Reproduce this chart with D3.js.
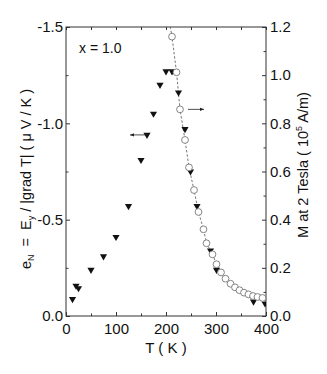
<!DOCTYPE html>
<html>
<head>
<meta charset="utf-8">
<script src="https://cdn.jsdelivr.net/npm/d3@7"></script>
<style>
  body { margin: 0; background: #fff; }
  svg text { font-family: "Liberation Sans", Arial, sans-serif; fill: #111; }
</style>
</head>
<body>
<svg width="327" height="374"></svg>
<script>
// Эффект Нернста e_N (левая ось), чёрные треугольники
const tempN = [13, 20, 25, 50, 75, 100, 125, 150, 162, 175, 188, 200, 212, 225, 238, 249, 262, 289, 301, 375, 398];
const eN = [-0.088, -0.157, -0.144, -0.24, -0.31, -0.41, -0.57, -0.81, -0.94, -1.05, -1.20, -1.27, -1.27, -1.16, -0.97, -0.75, -0.57, -0.34, -0.24, -0.075, -0.065];

// Намагниченность M при 2 Тл (правая ось), светлые кружки
const tempM = [212, 221, 228, 238, 246, 256, 265, 275, 281, 293, 301, 310, 319, 329, 338, 347, 356, 365, 374, 383, 393];
const magM = [1.16, 1.012, 0.858, 0.731, 0.617, 0.523, 0.432, 0.36, 0.302, 0.256, 0.215, 0.181, 0.155, 0.134, 0.119, 0.107, 0.097, 0.09, 0.083, 0.079, 0.075];

// Концы пунктирной линии за пределами точек
const guideStart = {t: 207, m: 1.22};
const guideEnd = {t: 402, m: 0.072};

const xTicks = [0, 100, 200, 300, 400];
const xMinor = [50, 150, 250, 350];
const leftTicks = [0, -0.5, -1.0, -1.5];
const leftMinor = [-0.25, -0.75, -1.25];
const rightTicks = [0, 0.2, 0.4, 0.6, 0.8, 1.0, 1.2];
const rightMinor = [0.1, 0.3, 0.5, 0.7, 0.9, 1.1];

const svg = d3.select("svg");
const L = 66, R = 266, T = 27, B = 316;

const x = d3.scaleLinear().domain([0, 400]).range([L, R]);
const yL = d3.scaleLinear().domain([0, -1.5]).range([B, T]);
const yR = d3.scaleLinear().domain([0, 1.2]).range([B, T]);
const fmt = d => d.toFixed(1);

// Рамка
svg.append("rect")
    .attr("x", L).attr("y", T)
    .attr("width", R - L).attr("height", B - T)
    .attr("fill", "none").attr("stroke", "#333").attr("stroke-width", 1);

function styleAxis(g) {
    g.select(".domain").remove();
    g.selectAll("line").attr("stroke", "#333");
    g.selectAll("text").attr("font-size", 15).attr("fill", "#111")
        .attr("font-family", "Liberation Sans, Arial, sans-serif");
}

// Нижняя ось
svg.append("g").attr("transform", `translate(0,${B})`)
    .call(d3.axisBottom(x).tickValues(xTicks).tickFormat(d3.format("d")).tickSizeInner(-4).tickSizeOuter(0).tickPadding(7))
    .call(styleAxis);
svg.append("g").attr("transform", `translate(0,${B})`)
    .call(d3.axisBottom(x).tickValues(xMinor).tickFormat("").tickSizeInner(-2.5).tickSizeOuter(0))
    .call(styleAxis);
// Верхняя ось (только риски)
svg.append("g").attr("transform", `translate(0,${T})`)
    .call(d3.axisTop(x).tickValues(xTicks.concat(xMinor)).tickFormat("").tickSizeInner(-3).tickSizeOuter(0))
    .call(styleAxis);

// Левая ось
svg.append("g").attr("transform", `translate(${L},0)`)
    .call(d3.axisLeft(yL).tickValues(leftTicks).tickFormat(fmt).tickSizeInner(-4).tickSizeOuter(0).tickPadding(3))
    .call(styleAxis);
svg.append("g").attr("transform", `translate(${L},0)`)
    .call(d3.axisLeft(yL).tickValues(leftMinor).tickFormat("").tickSizeInner(-2.5).tickSizeOuter(0))
    .call(styleAxis);

// Правая ось
svg.append("g").attr("transform", `translate(${R},0)`)
    .call(d3.axisRight(yR).tickValues(rightTicks).tickFormat(fmt).tickSizeInner(-4).tickSizeOuter(0).tickPadding(4))
    .call(styleAxis);
svg.append("g").attr("transform", `translate(${R},0)`)
    .call(d3.axisRight(yR).tickValues(rightMinor).tickFormat("").tickSizeInner(-2.5).tickSizeOuter(0))
    .call(styleAxis);

// Обрезка по области графика
svg.append("clipPath").attr("id", "plot")
    .append("rect").attr("x", L).attr("y", T).attr("width", R - L).attr("height", B - T);
const plot = svg.append("g").attr("clip-path", "url(#plot)");

// Пунктир через кружки
const mPoints = tempM.map((t, i) => ({t, m: magM[i]}));
const line = d3.line().x(d => x(d.t)).y(d => yR(d.m));
plot.append("path")
    .attr("d", line([guideStart, ...mPoints, guideEnd]))
    .attr("fill", "none").attr("stroke", "#555").attr("stroke-width", 0.8)
    .attr("stroke-dasharray", "2.5,1.8");

// Треугольники e_N
const tri = d3.symbol().type(d3.symbolTriangle).size(22);
plot.selectAll(".tri").data(tempN.map((t, i) => ({t, e: eN[i]})))
    .join("path")
    .attr("d", tri)
    .attr("transform", d => `translate(${x(d.t)},${yL(d.e)}) rotate(180)`)
    .attr("fill", "#111");

// Кружки M
plot.selectAll(".circ").data(mPoints)
    .join("circle")
    .attr("cx", d => x(d.t)).attr("cy", d => yR(d.m)).attr("r", 3.4)
    .attr("fill", "#fff").attr("stroke", "#777").attr("stroke-width", 0.9);

// Стрелки-указатели осей
svg.append("defs").append("marker")
    .attr("id", "head").attr("viewBox", "0 0 10 10")
    .attr("refX", 10).attr("refY", 5)
    .attr("markerWidth", 5).attr("markerHeight", 5)
    .attr("orient", "auto")
    .append("path").attr("d", "M0,1 L10,5 L0,9 Z").attr("fill", "#222");

svg.append("line")
    .attr("x1", x(163)).attr("y1", yL(-0.94)).attr("x2", x(128)).attr("y2", yL(-0.94))
    .attr("stroke", "#222").attr("stroke-width", 0.8).attr("marker-end", "url(#head)");
svg.append("line")
    .attr("x1", x(244)).attr("y1", yR(0.858)).attr("x2", x(276)).attr("y2", yR(0.858))
    .attr("stroke", "#222").attr("stroke-width", 0.8).attr("marker-end", "url(#head)");

// Подпись состава
svg.append("text").attr("x", 79).attr("y", 53).attr("font-size", 14).text("x = 1.0");

// Подпись оси X
svg.append("text").attr("x", (L + R) / 2).attr("y", 353)
    .attr("text-anchor", "middle").attr("font-size", 15).text("T ( K )");

// Подпись левой оси
const lt = svg.append("text")
    .attr("transform", "translate(31,179) rotate(-90)")
    .attr("text-anchor", "middle").attr("font-size", 14.5)
    .attr("xml:space", "preserve").style("white-space", "pre");
lt.append("tspan").text("e");
lt.append("tspan").attr("font-size", 9).attr("dy", 3).text("N");
lt.append("tspan").attr("dy", -3).text("  =  E");
lt.append("tspan").attr("font-size", 9).attr("dy", 3).text("y");
lt.append("tspan").attr("dy", -3).text(" / |grad T| ( \u03bc V / K )");

// Подпись правой оси
const rt = svg.append("text")
    .attr("transform", "translate(308,165) rotate(-90)")
    .attr("text-anchor", "middle").attr("font-size", 14.5);
rt.append("tspan").text("M at 2 Tesla ( 10");
rt.append("tspan").attr("font-size", 9).attr("dy", -6).text("5");
rt.append("tspan").attr("dy", 6).text(" A/m)");
</script>
</body>
</html>
